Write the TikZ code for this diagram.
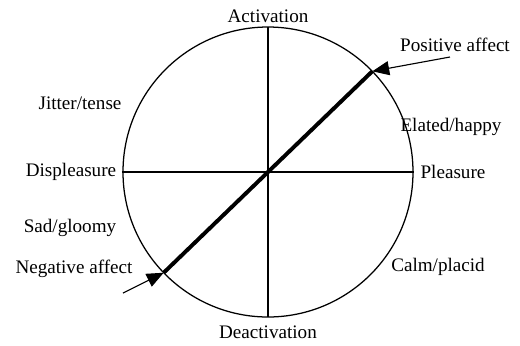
\documentclass[tikz,border=0pt]{standalone}
\usepackage{fontspec}
\setmainfont{Liberation Serif}
\usetikzlibrary{arrows.meta}

\begin{document}
\begin{tikzpicture}[x=0.025cm,y=0.025cm,
    lbl/.style={inner sep=1pt,font=\fontsize{13.6}{16}\selectfont},
    pointer/.style={-{Triangle[length=12pt,width=10pt]},line width=0.8pt}]
  \useasboundingbox (-268,-173) rectangle (252,172);
  \draw[line width=0.9pt] (0,0) circle (145);
  \coordinate (top) at (90:145);
  \coordinate (bot) at (270:145);
  \coordinate (lft) at (180:146);
  \coordinate (rgt) at (0:146);
  \coordinate (pos) at (44:145);
  \coordinate (neg) at (224:145);
  \draw[line width=0.9pt] (top)--(bot);
  \draw[line width=0.9pt] (lft)--(rgt);
  \draw[line width=2.8pt] (neg)--(pos);
  \node[lbl] (act) at (0,156) {Activation};
  \node[lbl] (deact) at (0,-160) {Deactivation};
  \node[lbl] (displ) at (-197,0) {Displeasure};
  \node[lbl] (pleas) at (185,0) {Pleasure};
  \node[lbl] (jitter) at (-188,69) {Jitter/tense};
  \node[lbl] (elated) at (183,45) {Elated/happy};
  \node[lbl] (sad) at (-198,-56) {Sad/gloomy};
  \node[lbl] (calm) at (170,-95) {Calm/placid};
  \node[lbl] (posaff) at (187,127) {Positive affect};
  \node[lbl] (negaff) at (-194,-97) {Negative affect};
  \coordinate (postail) at (182,115);
  \coordinate (negtail) at (-145,-121);
  \draw[pointer] (postail)--(pos);
  \draw[pointer] (negtail)--(neg);
\end{tikzpicture}
\end{document}
